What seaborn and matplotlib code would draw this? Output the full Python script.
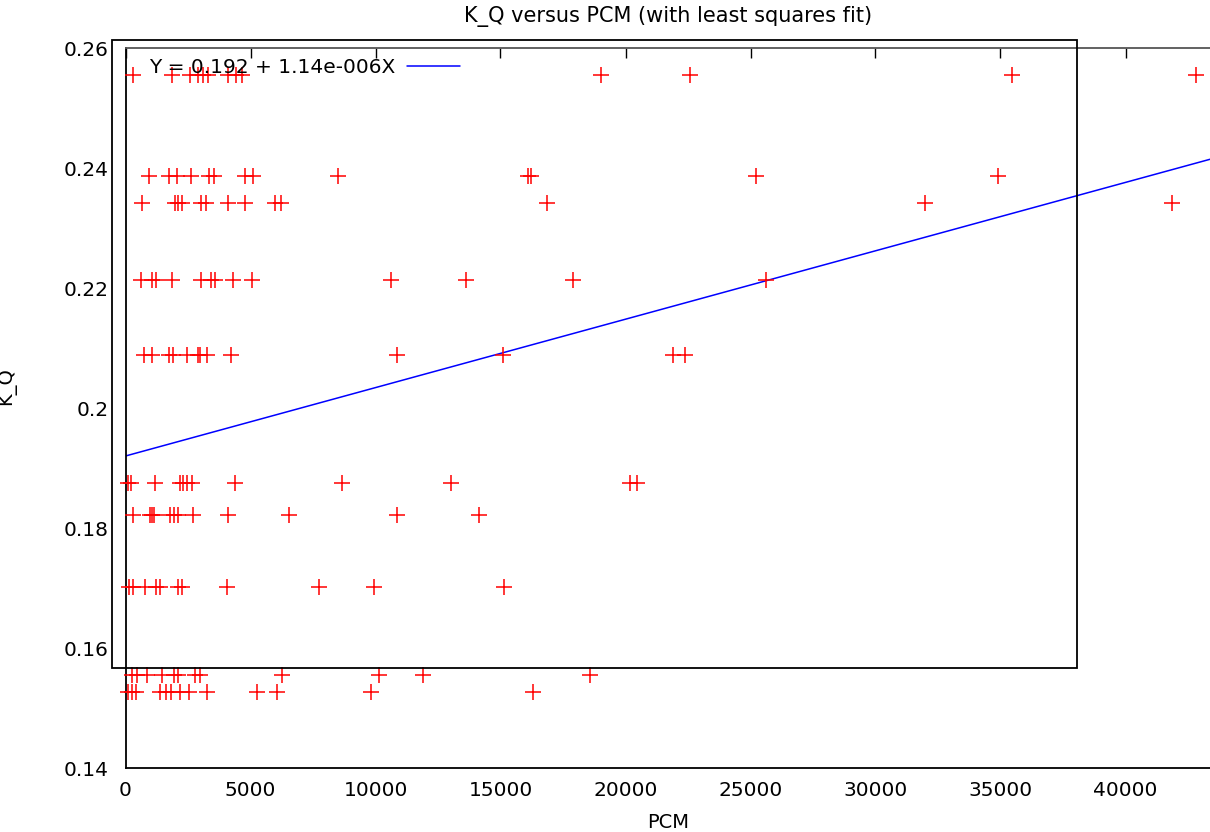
import numpy as np
import pandas as pd
import seaborn as sns
import matplotlib.pyplot as plt
from matplotlib.patches import Rectangle
from matplotlib.lines import Line2D

# K_Q levels and the PCM values observed at each level
kq_levels = [0.2555, 0.2387, 0.2342, 0.2213, 0.2088, 0.1875, 0.1822, 0.1702, 0.1555, 0.1527]
pcm_2555 = [300, 1860, 2580, 2900, 3100, 3300, 4100, 4420, 4660, 19020, 22580, 35460, 42820]
pcm_2387 = [940, 1740, 2060, 2620, 3340, 3540, 4780, 5100, 8500, 16100, 16220, 25220, 34900]
pcm_2342 = [660, 1980, 2100, 2260, 3020, 3220, 4100, 4780, 5980, 6220, 16860, 31980, 41860]
pcm_2213 = [620, 1060, 1220, 1860, 3020, 3420, 3580, 4300, 5060, 10620, 13620, 17900, 25620]
pcm_2088 = [740, 1060, 1740, 1900, 2460, 2900, 2980, 3260, 4220, 10860, 15100, 21900, 22380]
pcm_1875 = [100, 220, 1180, 2180, 2300, 2460, 2660, 4380, 8660, 13020, 20180, 20460]
pcm_1822 = [300, 980, 1060, 1140, 1780, 1940, 2100, 2700, 4100, 6540, 10860, 14140]
pcm_1702 = [140, 300, 780, 1220, 1380, 2100, 2260, 4060, 7740, 9940, 15140]
pcm_1555 = [260, 460, 860, 1460, 1940, 2100, 2780, 2980, 6260, 10140, 11900, 18580]
pcm_1527 = [100, 260, 420, 1380, 1620, 1820, 2180, 2540, 3260, 5260, 6060, 9820, 16300]

fit_intercept = 0.192
fit_slope = 1.14e-6
fit_label = "Y = 0.192 + 1.14e-006X"

groups = [pcm_2555, pcm_2387, pcm_2342, pcm_2213, pcm_2088,
          pcm_1875, pcm_1822, pcm_1702, pcm_1555, pcm_1527]
rows = []
for level, xs in zip(kq_levels, groups):
    for x in xs:
        rows.append((x, level))
data = pd.DataFrame(rows, columns=["PCM", "K_Q"])

sns.set_style("white")
plt.rcParams["font.family"] = ["DejaVu Sans"]
plt.rcParams["text.color"] = "black"
plt.rcParams["axes.labelcolor"] = "black"

fig = plt.figure(figsize=(12.1, 8.32), dpi=100)
ax = fig.add_axes([125.5 / 1210, 64 / 832, 1 - 125.5 / 1210, 720 / 832])

xmax = 43380
ax.set_xlim(0, xmax)
ax.set_ylim(0.14, 0.26)

sns.scatterplot(data=data, x="PCM", y="K_Q", marker="+", s=120, color="red",
                linewidth=1.1, ax=ax, legend=False, zorder=3, clip_on=False)

fit = pd.DataFrame({"PCM": [0, xmax]})
fit["K_Q"] = fit_intercept + fit_slope * fit["PCM"]
sns.lineplot(data=fit, x="PCM", y="K_Q", color="blue", linewidth=1.1, ax=ax)

ax.set_xticks(np.arange(0, 45000, 5000))
ax.set_yticks([0.14, 0.16, 0.18, 0.2, 0.22, 0.24, 0.26])
ax.set_yticklabels(["0.14", "0.16", "0.18", "0.2", "0.22", "0.24", "0.26"])
ax.tick_params(axis="both", direction="in", length=7, width=1, labelsize=14.5,
               colors="black", top=True, right=False)
ax.tick_params(axis="x", pad=9)
ax.tick_params(axis="y", pad=12)

for side in ["left", "bottom"]:
    ax.spines[side].set_color("black")
    ax.spines[side].set_linewidth(1.3)
ax.spines["top"].set_color("#555555")
ax.spines["top"].set_linewidth(1.3)
ax.spines["right"].set_visible(False)

ax.set_title("K_Q versus PCM (with least squares fit)", fontsize=15, pad=19)
ax.set_xlabel("PCM", fontsize=14, labelpad=10)
ax.set_ylabel("K_Q", fontsize=14)
ax.yaxis.set_label_coords(-0.101, 0.53)

handle = Line2D([], [], color="blue", linewidth=1.1)
ax.legend([handle], [fit_label], loc="upper left", frameon=False, fontsize=14.5,
          markerfirst=False, handlelength=2.65, handletextpad=0.6,
          borderaxespad=0.1, bbox_to_anchor=(0.012, 1.0))

fig.patches.append(Rectangle((112 / 1210, (832 - 668) / 832), (1077 - 112) / 1210,
                             (668 - 40) / 832, transform=fig.transFigure,
                             fill=False, edgecolor="black", linewidth=1.3, zorder=5))

fig.savefig("out.png", dpi=100)
